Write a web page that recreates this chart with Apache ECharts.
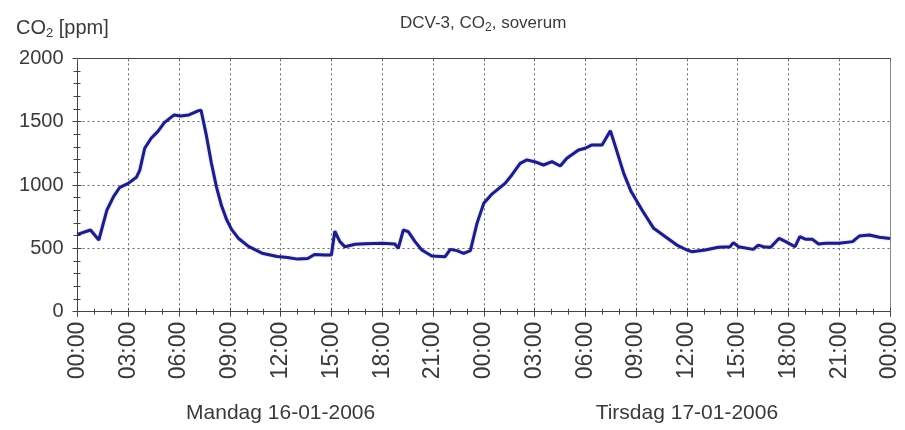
<!DOCTYPE html>
<html><head><meta charset="utf-8">
<script src="https://cdn.jsdelivr.net/npm/echarts@6/dist/echarts.min.js"></script>
<style>html,body{margin:0;padding:0;background:#fff}#c{width:905px;height:430px}</style>
</head><body><div id="c"></div>
<script>
// Hours since Monday 16-01-2006 00:00
const hours = [0, 0.77, 1.26, 1.74, 2.13, 2.5, 3.0, 3.48, 3.68, 3.97, 4.35, 4.74, 5.13, 5.71, 6.1, 6.58, 7.16, 7.3,
  7.6, 7.9, 8.2, 8.5, 8.8, 9.1, 9.5, 10.1, 10.9, 11.8, 12.4, 13.0, 13.6, 14.0, 14.6, 15.0, 15.2, 15.5, 15.8, 16.4,
  17.0, 18.0, 18.75, 18.95, 19.25, 19.54, 19.94, 20.34, 20.93, 21.72, 22.02, 22.42, 22.81, 23.21, 23.6, 24.0, 24.5,
  25.26, 25.66, 26.15, 26.55, 27.0, 27.53, 28.03, 28.52, 28.91, 29.6, 30.0, 30.39, 30.99, 31.48, 31.78, 32.27, 32.7,
  33.35, 34.04, 34.73, 35.41, 36.0, 36.29, 37.08, 37.86, 38.55, 38.75, 39.04, 39.92, 40.22, 40.6, 40.95, 41.45,
  41.84, 42.39, 42.67, 43.03, 43.42, 43.78, 44.21, 45.0, 45.79, 46.18, 46.78, 47.37, 48.0];
const co2 = [610, 645, 566, 803, 908, 982, 1013, 1061, 1118, 1290, 1369, 1421, 1492, 1553, 1545, 1553, 1587, 1590,
  1400, 1180, 990, 840, 730, 650, 580, 515, 462, 436, 428, 415, 420, 452, 447, 447, 635, 553, 512, 532,
  537, 540, 534, 500, 645, 632, 553, 487, 440, 434, 492, 482, 461, 482, 697, 855, 930,
  1013, 1079, 1171, 1198, 1184, 1158, 1184, 1150, 1211, 1276, 1290, 1316, 1316, 1429, 1303, 1092, 950,
  803, 658, 592, 526, 487, 474, 487, 508, 513, 545, 513, 492, 526, 510, 508, 579,
  553, 513, 592, 571, 571, 534, 540, 540, 553, 597, 605, 587, 578];
const tickLabels = ['00:00','03:00','06:00','09:00','12:00','15:00','18:00','21:00',
  '00:00','03:00','06:00','09:00','12:00','15:00','18:00','21:00','00:00'];
const dayLabels = ['Mandag 16-01-2006', 'Tirsdag 17-01-2006'];
const dayCenters = [12, 36];

const FONT = 'Liberation Sans, Arial, sans-serif';
const TXT = '#3a3a3a';
const chart = echarts.init(document.getElementById('c'), null, {renderer: 'canvas'});
const data = hours.map((h, i) => [h, co2[i]]);
const gridLine = {show: true, lineStyle: {color: '#666', type: [2, 3], width: 1}};
const hidden = {show: false};
chart.setOption({
  animation: false,
  backgroundColor: '#fff',
  title: [
    {text: 'DCV-3, CO{sub|2}, soverum', left: 395, top: 8,
     textStyle: {fontFamily: FONT, fontSize: 17, fontWeight: 'normal', color: TXT,
       rich: {sub: {fontFamily: FONT, fontSize: 12, color: TXT, verticalAlign: 'bottom', padding: [9, 0, 0, 0]}}}},
    {text: 'CO{sub|2} [ppm]', left: 11, top: 12,
     textStyle: {fontFamily: FONT, fontSize: 20, fontWeight: 'normal', color: TXT,
       rich: {sub: {fontFamily: FONT, fontSize: 13, color: TXT, verticalAlign: 'bottom', padding: [10, 0, 0, 0]}}}}
  ],
  grid: {left: 77.5, right: 15, top: 58.3, bottom: 118.3, containLabel: false},
  xAxis: [
    {type: 'value', min: 0, max: 48, interval: 3, position: 'bottom',
     axisLine: {show: true, onZero: false, lineStyle: {color: '#444'}},
     axisTick: {show: true, inside: false, length: 5, lineStyle: {color: '#444'}},
     minorTick: {show: true, splitNumber: 3, length: 3, lineStyle: {color: '#444'}},
     axisLabel: {rotate: 90, margin: 10, fontFamily: FONT, fontSize: 23, color: TXT,
       showMinLabel: true, showMaxLabel: true,
       formatter: v => tickLabels[Math.round(v / 3)]},
     splitLine: gridLine},
    {type: 'value', min: 0, max: 48, interval: 3, position: 'bottom',
     axisLine: {show: false, onZero: false},
     axisTick: {show: true, inside: true, length: 4, lineStyle: {color: '#444'}},
     minorTick: {show: true, splitNumber: 3, length: 3, lineStyle: {color: '#444'}},
     axisLabel: hidden, splitLine: hidden},
    {type: 'value', min: 0, max: 48, interval: 12, position: 'bottom', offset: 83,
     axisLine: hidden, axisTick: hidden, splitLine: hidden,
     axisLabel: {margin: 8, fontFamily: FONT, fontSize: 21, color: TXT, showMinLabel: true, showMaxLabel: true,
       formatter: v => { const i = dayCenters.indexOf(v); return i >= 0 ? dayLabels[i] : ''; }}},
    {type: 'value', min: 0, max: 48, interval: 3, position: 'top',
     axisLine: {show: true, onZero: false, lineStyle: {color: '#444'}},
     axisTick: {show: true, inside: true, length: 3, lineStyle: {color: '#666'}},
     axisLabel: hidden, splitLine: hidden}
  ],
  yAxis: [
    {type: 'value', min: 0, max: 2000, interval: 500, position: 'left',
     axisLine: {show: true, onZero: false, lineStyle: {color: '#444'}},
     axisTick: {show: true, inside: false, length: 5, lineStyle: {color: '#444'}},
     minorTick: {show: true, splitNumber: 5, length: 4, lineStyle: {color: '#444'}},
     axisLabel: {margin: 14, fontFamily: FONT, fontSize: 20, color: TXT, formatter: v => String(v)},
     splitLine: gridLine},
    {type: 'value', min: 0, max: 2000, interval: 500, position: 'left',
     axisLine: hidden,
     axisTick: {show: true, inside: true, length: 4, lineStyle: {color: '#444'}},
     minorTick: {show: true, splitNumber: 5, length: 3, lineStyle: {color: '#444'}},
     axisLabel: hidden, splitLine: hidden},
    {type: 'value', min: 0, max: 2000, interval: 500, position: 'right',
     axisLine: {show: true, onZero: false, lineStyle: {color: '#888'}},
     axisTick: hidden, axisLabel: hidden, splitLine: hidden}
  ],
  series: [{
    type: 'line', xAxisIndex: 0, yAxisIndex: 0, data: data, showSymbol: false, smooth: false,
    lineStyle: {color: '#1d1d88', width: 3, shadowColor: 'rgba(40,40,150,0.35)', shadowBlur: 2},
    itemStyle: {color: '#1d1d88'}
  }]
});
</script></body></html>
